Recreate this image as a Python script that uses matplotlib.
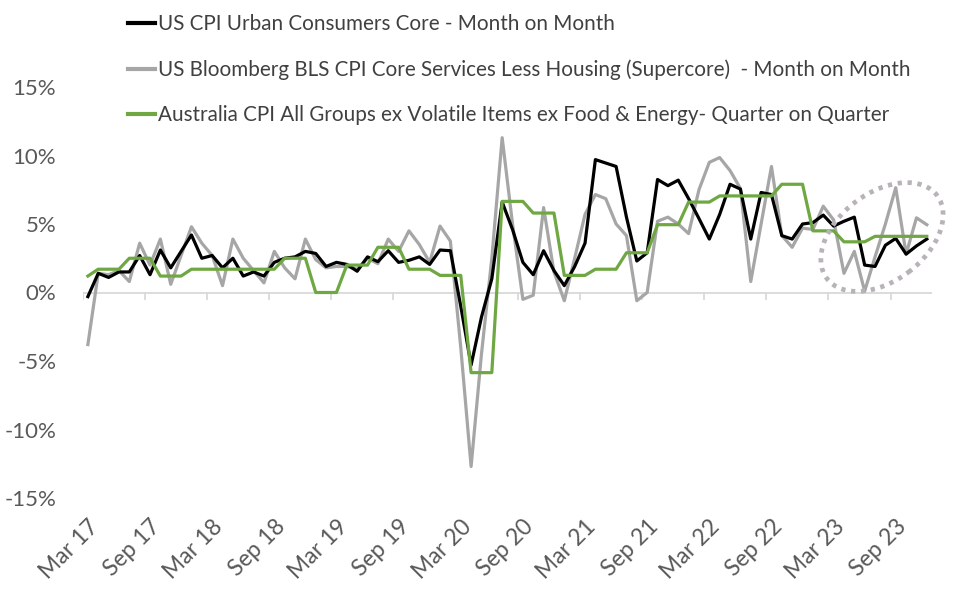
import matplotlib.pyplot as plt
from matplotlib.lines import Line2D
from matplotlib.patches import Ellipse

plt.rcParams['font.family'] = ['Lato', 'DejaVu Sans']

# monthly data, Mar 2017 .. Dec 2023 (annualised %)
us_core = [-0.3, 1.4, 1.1, 1.5, 1.5, 2.7, 1.3, 3.1, 1.8, 3.0,
           4.2, 2.5, 2.7, 1.8, 2.5, 1.2, 1.5, 1.2, 2.2, 2.5,
           2.6, 3.0, 2.85, 1.9, 2.2, 2.05, 1.55, 2.6, 2.25, 3.05,
           2.2, 2.35, 2.6, 2.05, 3.1, 3.05, -1.0, -5.3, -1.8, 1.0,
           6.6, 4.6, 2.2, 1.3, 3.05, 1.6, 0.5, 1.9, 3.6, 9.7,
           9.45, 9.2, 5.5, 2.3, 2.9, 8.25, 7.8, 8.2, 6.85, 5.4,
           3.9, 5.7, 7.9, 7.55, 3.9, 7.3, 7.15, 4.15, 3.9, 5.0,
           5.1, 5.65, 4.85, 5.2, 5.5, 2.0, 1.9, 3.45, 3.95, 2.8,
           3.4, 3.9]

us_supercore = [-3.8, 1.4, 1.3, 1.6, 0.8, 3.6, 2.0, 3.9, 0.6, 2.7,
                4.8, 3.6, 2.7, 0.5, 3.9, 2.5, 1.6, 0.7, 3.0, 1.8,
                1.0, 3.9, 2.4, 1.8, 1.9, 1.9, 1.7, 2.5, 2.1, 3.9,
                3.0, 4.5, 3.5, 2.2, 4.85, 3.75, -4.0, -12.7, -4.5, 2.5,
                11.3, 5.0, -0.5, -0.2, 6.2, 1.5, -0.6, 2.5, 5.7, 7.15,
                6.85, 5.0, 4.15, -0.6, 0.0, 5.2, 5.5, 5.0, 4.3, 7.5,
                9.5, 9.85, 8.9, 7.6, 0.8, 5.0, 9.2, 4.15, 3.3, 4.7,
                4.6, 6.3, 5.3, 1.4, 3.0, 0.1, 2.6, 5.0, 7.65, 2.8,
                5.45, 4.95]

# quarterly series shown against each month of its quarter
aus_core = [1.2, 1.7, 1.7, 1.7, 2.5, 2.5, 2.5, 1.2, 1.2, 1.2,
            1.7, 1.7, 1.7, 1.7, 1.7, 1.7, 1.7, 1.7, 1.7, 2.5,
            2.5, 2.5, 0.0, 0.0, 0.0, 2.0, 2.0, 2.0, 3.3, 3.3,
            3.3, 1.7, 1.7, 1.7, 1.25, 1.25, 1.25, -5.85, -5.85, -5.85,
            6.65, 6.65, 6.65, 5.8, 5.8, 5.8, 1.25, 1.25, 1.25, 1.7,
            1.7, 1.7, 2.9, 2.9, 2.9, 4.95, 4.95, 4.95, 6.6, 6.6,
            6.6, 7.05, 7.05, 7.05, 7.05, 7.05, 7.05, 7.9, 7.9, 7.9,
            4.5, 4.5, 4.5, 3.7, 3.7, 3.7, 4.1, 4.1, 4.1, 4.1,
            4.1, 4.1]

tick_labels = ['Mar 17', 'Sep 17', 'Mar 18', 'Sep 18', 'Mar 19', 'Sep 19',
               'Mar 20', 'Sep 20', 'Mar 21', 'Sep 21', 'Mar 22', 'Sep 22',
               'Mar 23', 'Sep 23']

labels = ['US CPI Urban Consumers Core - Month on Month',
          'US Bloomberg BLS CPI Core Services Less Housing (Supercore)  - Month on Month',
          'Australia CPI All Groups ex Volatile Items ex Food & Energy- Quarter on Quarter']

black = '#000000'
grey = '#a6a6a6'
green = '#6fa843'
text_col = '#595959'

fig = plt.figure(figsize=(9.63, 5.95), dpi=100)
ax = fig.add_axes([82.7 / 963, 1 - 498 / 595, (932 - 82.7) / 963, 411 / 595])

x = list(range(len(us_core)))
ax.plot(x, us_core, color=black, lw=2.3, zorder=3)
ax.plot(x, us_supercore, color=grey, lw=2.3, zorder=2)
ax.plot(x, aus_core, color=green, lw=2.3, zorder=4)

ax.set_xlim(-0.5, len(x) - 0.5)
ax.set_ylim(-15, 15)

# zero line with hanging tick marks, like an Excel category axis
ax.axhline(0, color='#d9d9d9', lw=1.3, zorder=1)
for b in range(0, len(x), 6):
    ax.plot([b - 0.5, b - 0.5], [0, -0.5], color='#d9d9d9', lw=1.3, zorder=1)

for s in ax.spines.values():
    s.set_visible(False)

ax.set_yticks([-15, -10, -5, 0, 5, 10, 15])
ax.set_yticklabels(['-15%', '-10%', '-5%', '0%', '5%', '10%', '15%'])
ax.set_xticks(list(range(0, len(x), 6)))
ax.set_xticklabels(tick_labels, rotation=45, ha='right', rotation_mode='anchor')
ax.tick_params(axis='both', length=0, labelcolor=text_col)
ax.tick_params(axis='y', pad=19, labelsize=16)
ax.tick_params(axis='x', pad=13, labelsize=16.5)

# dotted ellipse highlighting recent months
ell = Ellipse((8.82, (595 - 237) / 100), width=1.38, height=0.88, angle=37,
              transform=fig.dpi_scale_trans, fill=False, edgecolor='#b8b3b8',
              lw=3.4, linestyle=(0, (0.9, 1.2)), zorder=5)
fig.add_artist(ell)

handles = [Line2D([], [], color=black, lw=3),
           Line2D([], [], color=grey, lw=3),
           Line2D([], [], color=green, lw=3)]
fig.legend(handles, labels, loc='upper left', bbox_to_anchor=(128 / 963, 1 - 14 / 595),
           frameon=False, fontsize=14.9, handlelength=1.3, handletextpad=0.15,
           labelspacing=1.22, labelcolor='#404040', borderpad=0, borderaxespad=0)

fig.savefig('out.png', dpi=100)
